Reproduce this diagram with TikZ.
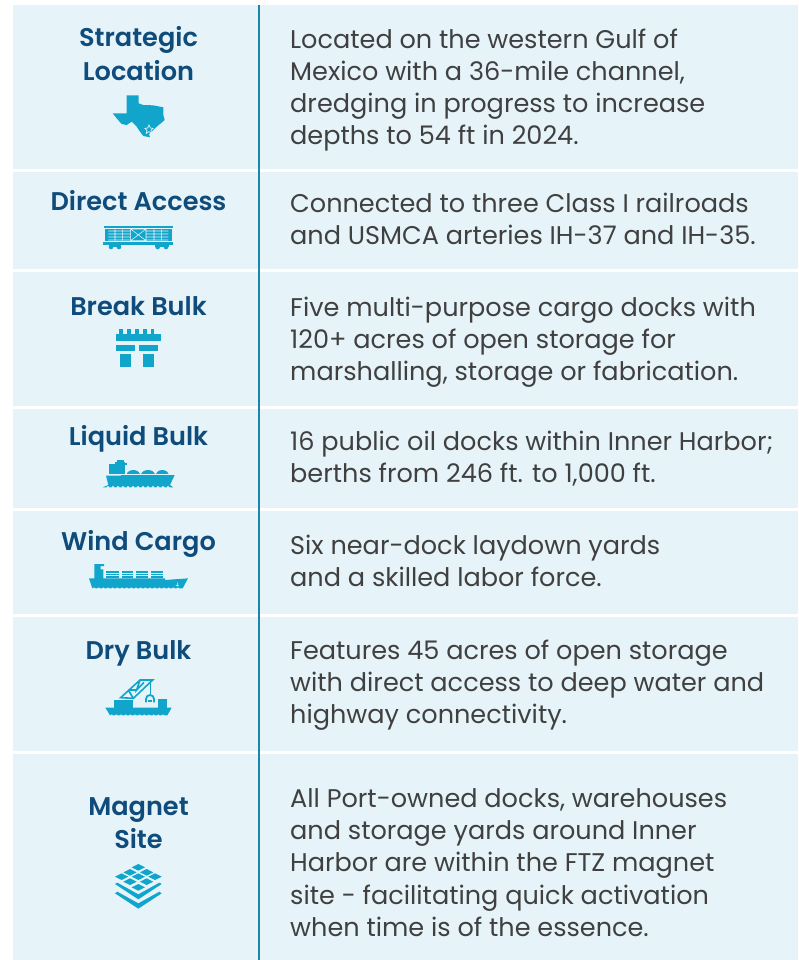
\documentclass[tikz,border=0pt]{standalone}
\usepackage{fontspec}
\setmainfont[BoldFont={Poppins SemiBold}]{Poppins}
\definecolor{panel}{HTML}{E6F4F9}
\definecolor{navy}{HTML}{0F4C7B}
\definecolor{iconblue}{HTML}{12A5CC}
\definecolor{bodygrey}{HTML}{404040}
\definecolor{rule}{HTML}{1B86A8}
\tikzset{
  rowbox/.style={fill=panel,draw=none},
  titletext/.style={text=navy,align=center,inner sep=0pt,font=\fontsize{25.6}{33.5}\selectfont\bfseries},
  bodytext/.style={text=bodygrey,align=left,inner sep=0pt,anchor=west,font=\fontsize{25.55}{32.15}\selectfont},
  iconfill/.style={fill=iconblue,draw=none},
  notch/.style={fill=panel,draw=none},
  iconat/.style={shift={#1},scale=1/3}
}
\begin{document}
\begin{tikzpicture}[x=1pt,y=-1pt]
\useasboundingbox (0,0) rectangle (798,960);
\fill[white] (0,0) rectangle (798,960);
% rows
\fill[rowbox] (13,5) rectangle (798,169);
\fill[rowbox] (13,172) rectangle (798,269);
\fill[rowbox] (13,272) rectangle (798,406);
\fill[rowbox] (13,409) rectangle (798,508);
\fill[rowbox] (13,511) rectangle (798,614);
\fill[rowbox] (13,617) rectangle (798,751);
\fill[rowbox] (13,754) rectangle (798,960);
\coordinate (ruletop) at (259,5);
\coordinate (rulebot) at (259,960);
\draw[rule,line width=1.1pt] (ruletop) -- (rulebot);
% titles
\node[titletext] (t1) at (138.5,53.5) {Strategic\\Location};
\node[titletext] (t2) at (138.5,201) {Direct Access};
\node[titletext] (t3) at (138.5,306) {Break Bulk};
\node[titletext] (t4) at (138.5,439) {Liquid Bulk};
\node[titletext] (t5) at (138.5,544) {Wind Cargo};
\node[titletext] (t6) at (138.5,653) {Dry Bulk};
\node[titletext] (t7) at (138.5,823) {Magnet\\Site};
% body
\node[bodytext] (b1) at (290,90) {Located on the western Gulf of\\Mexico with a 36-mile channel,\\dredging in progress to increase\\depths to 54 ft in 2024.};
\node[bodytext] (b2) at (290,219) {Connected to three Class I railroads\\and USMCA arteries IH-37 and IH-35.};
\node[bodytext] (b3) at (290,342) {Five multi-purpose cargo docks with\\120+ acres of open storage for\\marshalling, storage or fabrication.};
\node[bodytext] (b4) at (290,459) {16 public oil docks within Inner Harbor;\\berths from 246 ft. to 1,000 ft.};
\node[bodytext] (b5) at (290,561) {Six near-dock laydown yards\\and a skilled labor force.};
\node[bodytext] (b6) at (290,685) {Features 45 acres of open storage\\with direct access to deep water and\\highway connectivity.};
\node[bodytext] (b7) at (290,862.5) {All Port-owned docks, warehouses\\and storage yards around Inner\\Harbor are within the FTZ magnet\\site - facilitating quick activation\\when time is of the essence.};
% Texas
\begin{scope}[iconat={(0,0)}]
\fill[iconfill] (380,286)--(416,286)--(416,310)--(430,315)--(460,316)--(490,322)--(490,345)--(494,360)--(485,368)--(470,380)--(455,395)--(447,402)--(450,412)--(430,408)--(420,395)--(410,380)--(395,365)--(380,375)--(365,372)--(350,355)--(338,340)--(380,340)--cycle;
\draw[panel,line width=.7pt] (447,375)--(451,384)--(459,385)--(453,391)--(455,400)--(447,395)--(439,400)--(441,391)--(435,385)--(443,384)--cycle;
\end{scope}
% Box car
\begin{scope}[iconat={(0,0)}]
\fill[iconfill] (313,677) rectangle (518,684);
\fill[iconfill] (315,687) rectangle (517,722);
\fill[iconfill] (310,727) rectangle (520,734);
\fill[iconfill] (326,734) rectangle (364,741);
\fill[iconfill] (466,734) rectangle (506,741);
\foreach \cx in {333,357,473,498} \fill[iconfill] (\cx,741) circle (7);
\draw[panel,line width=.55pt] (325,693)--(390,693) (325,702)--(390,702) (325,711)--(390,711) (325,720)--(390,720)
 (440,693)--(505,693) (440,702)--(505,702) (440,711)--(505,711) (440,720)--(505,720)
 (345,688)--(345,722) (368,688)--(368,722) (462,688)--(462,722) (485,688)--(485,722)
 (392,687) rectangle (438,722) (392,687)--(438,722) (438,687)--(392,722);
\end{scope}
% Break bulk
\begin{scope}[iconat={(80,320)}]
\fill[iconfill] (108,42) rectangle (243,64);
\foreach \tx in {118,142,166,190,212} \fill[iconfill] (\tx,28) rectangle ++(11,15);
\fill[iconfill] (108,75) rectangle (165,92);
\fill[iconfill] (177,75) rectangle (234,92);
\fill[iconfill] (120,102) rectangle (153,140);
\fill[iconfill] (189,102) rectangle (222,140);
\end{scope}
% Liquid bulk ship
\begin{scope}[iconat={(80,320)}]
\fill[iconfill] (78,467)--(123,467)--(123,462)--(285,463)--(270,495)--(280,502)--(68,502)--(85,495)--cycle;
\foreach \nx in {84,99,...,270} \fill[notch] (\nx,502) circle (4.5);
\fill[iconfill] (87,433) rectangle (122,462);
\fill[iconfill] (105,425) rectangle (135,462);
\fill[iconfill] (110,420) rectangle (132,425);
\fill[iconfill] (135,430) rectangle (141,434);
\fill[iconfill] (140,465) arc[start angle=180,end angle=360,x radius=20,y radius=15];
\fill[iconfill] (183,465) arc[start angle=180,end angle=360,x radius=21,y radius=15];
\fill[iconfill] (228,465) arc[start angle=180,end angle=360,x radius=19,y radius=15];
\draw[panel,line width=.6pt] (123,463)--(285,463);
\end{scope}
% Wind cargo ship
\begin{scope}[iconat={(80,555)}]
\fill[iconfill] (27,70)--(255,70)--(255,75)--(324,70)--(308,100)--(37,100)--cycle;
\foreach \nx in {42,56,...,305} \fill[notch] (\nx,101) circle (4);
\fill[iconfill] (43,27)--(72,27)--(72,33)--(62,33)--(62,43)--(70,43)--(70,72)--(43,72)--cycle;
\foreach \xa/\xb in {78/118,125/160,167/205,212/250}{
  \fill[iconfill] (\xa,48) rectangle (\xb,70);
  \draw[panel,line width=.5pt] (\xa,55)--(\xb,55) (\xa,62)--(\xb,62);
}
\draw[panel,line width=.5pt] (292,82)--(292,92) (287,90)--(292,93)--(297,90);
\end{scope}
% Dry bulk ship
\begin{scope}[iconat={(80,555)}]
\fill[iconfill] (76,458)--(275,458)--(262,481)--(90,481)--cycle;
\foreach \nx in {95,109,...,262} \fill[notch] (\nx,482) circle (4);
\fill[iconfill] (102,434) rectangle (160,462);
\fill[iconfill] (235,432) rectangle (262,458);
\draw[iconblue,line width=1.6pt] (122,428)--(180,375)--(218,375)--(160,430)--cycle (145,405)--(160,430) (145,405)--(170,405) (180,375)--(170,405)--(192,382);
\draw[iconblue,line width=1pt] (210,380)--(210,420);
\draw[iconblue,line width=1.8pt] (198,442)--(198,432) arc[start angle=180,end angle=360,radius=12]--(222,442);
\fill[iconfill] (205,436) rectangle (215,442);
\end{scope}
% Stacked layers
\begin{scope}[iconat={(90,850)}]
\foreach \dx/\dy in {145/52,120/67,170/67,95/80,145/80,195/80,120/95,170/95,145/112}
  \fill[iconfill] (\dx-20,\dy)--(\dx,\dy-10)--(\dx+20,\dy)--(\dx,\dy+10)--cycle;
\fill[iconfill] (75,102)--(82,98)--(145,133)--(208,98)--(215,102)--(145,148)--cycle;
\fill[iconfill] (75,130)--(82,125)--(145,160)--(208,125)--(215,130)--(145,176)--cycle;
\end{scope}
\end{tikzpicture}
\end{document}
